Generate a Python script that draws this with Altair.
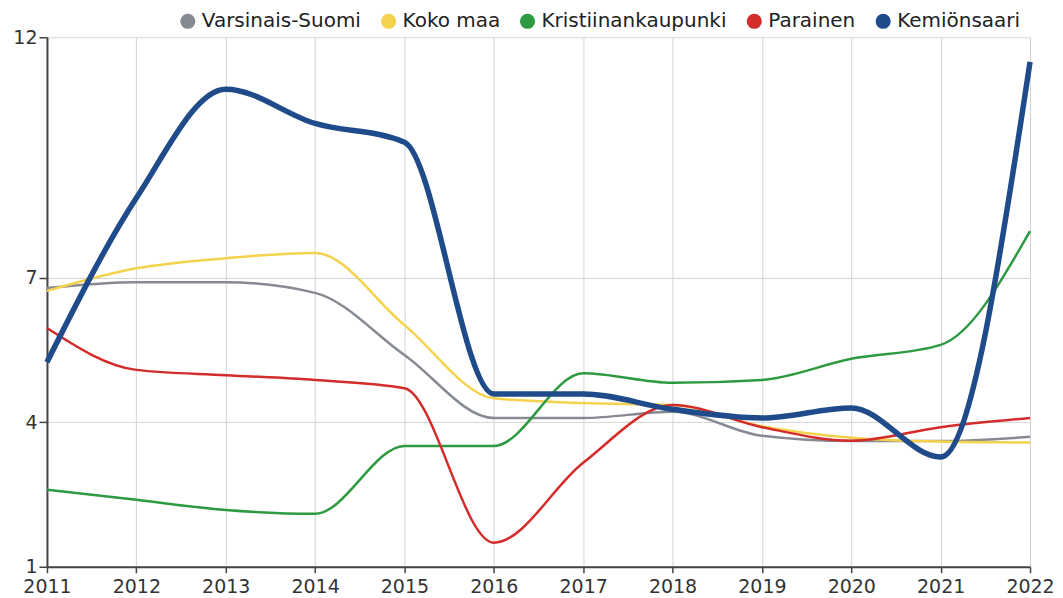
import altair as alt
import pandas as pd

years = list(range(2011, 2023))
series_names = ["Varsinais-Suomi", "Koko maa", "Kristiinankaupunki", "Parainen", "Kemiönsaari"]
varsinais_suomi = [6.79, 6.91, 6.91, 6.69, 5.40, 4.09, 4.09, 4.22, 3.72, 3.61, 3.61, 3.70]
koko_maa = [6.73, 7.20, 7.41, 7.52, 6.02, 4.50, 4.40, 4.36, 3.92, 3.68, 3.60, 3.58]
kristiinankaupunki = [2.60, 2.39, 2.18, 2.10, 3.51, 3.51, 5.02, 4.82, 4.88, 5.32, 5.61, 7.97]
parainen = [5.96, 5.09, 4.98, 4.88, 4.71, 1.50, 3.16, 4.36, 3.90, 3.62, 3.90, 4.09]
kemionsaari = [5.25, 8.66, 10.92, 10.21, 9.82, 4.59, 4.59, 4.27, 4.09, 4.30, 3.28, 11.49]
series_values = [varsinais_suomi, koko_maa, kristiinankaupunki, parainen, kemionsaari]
colors = ["#868a93", "#f5d24b", "#2d9a41", "#d42b2b", "#1f4b8a"]
highlight = "Kemiönsaari"
y_ticks = [1, 4, 7, 12]

rows = []
for name, vals in zip(series_names, series_values):
    for yr, v in zip(years, vals):
        rows.append({"series": name, "year": yr, "value": v})
df = pd.DataFrame(rows)

x_enc = alt.X("year:Q", scale=alt.Scale(domain=[2011, 2022], nice=False, zero=False),
              axis=alt.Axis(values=years, format="d", title=None, labelFlush=False,
                            tickSize=6, labelPadding=5))
y_enc = alt.Y("value:Q", scale=alt.Scale(domain=[1, 12], nice=False, zero=False),
              axis=alt.Axis(values=y_ticks, title=None, labelFlush=False,
                            tickSize=8, labelPadding=2))

legend = alt.Legend(
    title=None, orient="none", legendX=131, legendY=-26,
    direction="horizontal", symbolType="circle", symbolSize=230,
    labelFontSize=20, labelFont="DejaVu Sans", labelColor="#222", labelLimit=500,
    columnPadding=17, labelOffset=4, symbolStrokeWidth=0,
    symbolOpacity=1)
color_enc = alt.Color("series:N", sort=series_names,
                      scale=alt.Scale(domain=series_names, range=colors), legend=legend)

legend_pts = alt.Chart(df).mark_point(filled=True, opacity=0, size=1).encode(
    x=x_enc, y=y_enc, color=color_enc,
)

lines = alt.Chart(df).mark_line(interpolate="monotone").encode(
    x=x_enc, y=y_enc, color=color_enc,
    strokeWidth=alt.condition(alt.datum.series == highlight, alt.value(5.5), alt.value(2.5)),
)

chart = alt.layer(legend_pts, lines).properties(
    width=984, height=530,
    padding={"left": 4, "top": 3, "right": 0, "bottom": 0},
).configure_view(strokeWidth=0).configure_axis(
    labelFont="DejaVu Sans", labelFontSize=19, labelColor="#333",
    domainColor="#444", domainWidth=2, tickColor="#444", tickWidth=1.5,
    gridColor="#d4d4d4", gridWidth=1,
)

chart.save("out.html", embed_options={"renderer": "svg", "actions": False})
